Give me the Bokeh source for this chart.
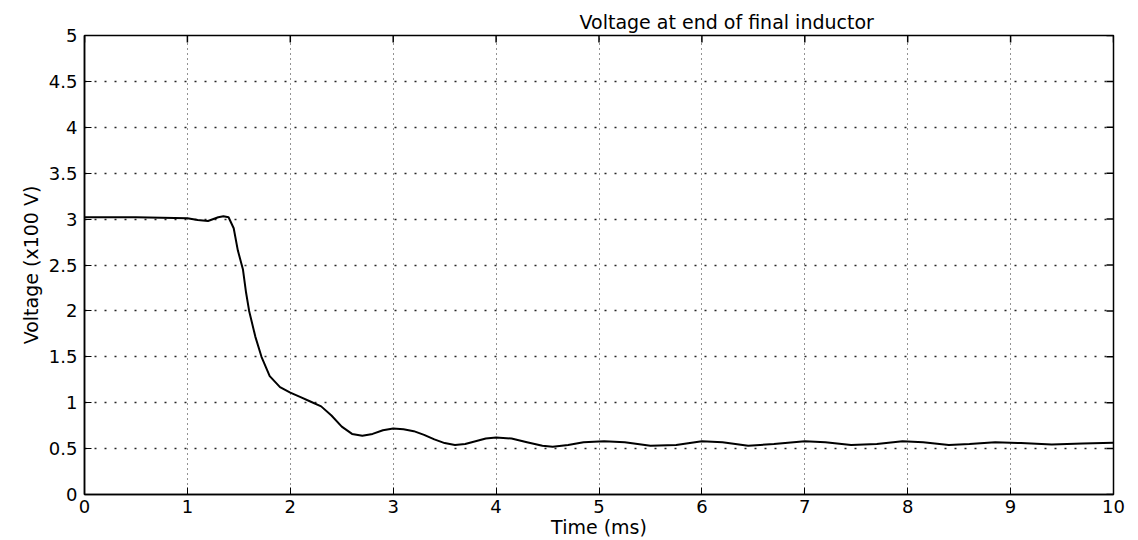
import math
from bokeh.plotting import figure
from bokeh.models import FixedTicker, Range1d, Title
from bokeh.embed import file_html
from bokeh.resources import INLINE

# ---- data ----
time_ms = [0, 0.5, 1.0, 1.1, 1.2, 1.3, 1.35, 1.4, 1.45, 1.49, 1.54, 1.57, 1.60, 1.66, 1.72,
           1.8, 1.9, 2.0, 2.1, 2.2, 2.3, 2.4, 2.5, 2.6, 2.7, 2.8, 2.9, 3.0, 3.1, 3.2, 3.3,
           3.4, 3.5, 3.6, 3.7, 3.8, 3.9, 4.0, 4.15, 4.3, 4.45, 4.55, 4.7, 4.85, 5.05, 5.25,
           5.5, 5.75, 6.0, 6.2, 6.45, 6.7, 7.0, 7.2, 7.45, 7.7, 7.95, 8.15, 8.4, 8.6, 8.85,
           9.1, 9.4, 9.7, 10.0]
voltage = [3.02, 3.02, 3.01, 2.99, 2.98, 3.02, 3.03, 3.02, 2.90, 2.66, 2.45, 2.20, 2.00, 1.72, 1.50,
           1.29, 1.17, 1.11, 1.06, 1.01, 0.96, 0.86, 0.74, 0.66, 0.64, 0.66, 0.70, 0.72, 0.71, 0.69, 0.65,
           0.60, 0.56, 0.54, 0.55, 0.58, 0.61, 0.62, 0.61, 0.57, 0.53, 0.52, 0.54, 0.57, 0.58, 0.57,
           0.53, 0.54, 0.58, 0.57, 0.53, 0.55, 0.58, 0.57, 0.54, 0.55, 0.58, 0.57, 0.54, 0.55, 0.57,
           0.56, 0.545, 0.555, 0.565]

x_ticks = [0, 1, 2, 3, 4, 5, 6, 7, 8, 9, 10]
y_ticks = [0, 0.5, 1, 1.5, 2, 2.5, 3, 3.5, 4, 4.5, 5]
y_tick_labels = ["0", "0.5", "1", "1.5", "2", "2.5", "3", "3.5", "4", "4.5", "5"]

title_text = "Voltage at end of final inductor"
x_label = "Time (ms)"
y_label = "Voltage (x100 V)"

FONT = "DejaVu Sans"
X_MIN, X_MAX, Y_MIN, Y_MAX = 0, 10, 0, 5

p = figure(width=1138, height=540, output_backend="svg", toolbar_location=None,
           x_range=Range1d(X_MIN, X_MAX), y_range=Range1d(Y_MIN, Y_MAX),
           min_border_left=84, min_border_right=25, min_border_top=35, min_border_bottom=45)
p.title = None
t = Title(text=title_text, align="left", offset=495, text_font=FONT,
          text_font_size="19px", text_font_style="normal", text_color="black",
          standoff=6)
p.add_layout(t, "above")

p.background_fill_color = "white"
p.border_fill_color = "white"
p.outline_line_color = "black"
p.outline_line_width = 1.5

p.line(time_ms, voltage, line_color="black", line_width=2)

for ax in p.xaxis:
    ax.ticker = FixedTicker(ticks=x_ticks)
    ax.axis_label = x_label
    ax.axis_label_text_font = FONT
    ax.axis_label_text_font_size = "19px"
    ax.axis_label_text_font_style = "normal"
    ax.axis_label_text_color = "black"
    ax.axis_label_standoff = 0
    ax.major_label_text_font = FONT
    ax.major_label_text_font_size = "18px"
    ax.major_label_standoff = 5
    ax.major_tick_in = 7
    ax.major_tick_out = 0
    ax.minor_tick_in = 0
    ax.minor_tick_out = 0
    ax.axis_line_color = "black"
    ax.axis_line_width = 1.5
    ax.major_label_text_color = "black"

for ax in p.yaxis:
    ax.ticker = FixedTicker(ticks=y_ticks)
    ax.major_label_overrides = {v: s for v, s in zip(y_ticks, y_tick_labels)}
    ax.axis_label = y_label
    ax.axis_label_text_font = FONT
    ax.axis_label_text_font_size = "19px"
    ax.axis_label_text_font_style = "normal"
    ax.axis_label_text_color = "black"
    ax.axis_label_standoff = 4
    ax.major_label_text_font = FONT
    ax.major_label_text_font_size = "18px"
    ax.major_label_standoff = 7
    ax.major_tick_in = 7
    ax.major_tick_out = 0
    ax.minor_tick_in = 0
    ax.minor_tick_out = 0
    ax.axis_line_color = "black"
    ax.axis_line_width = 1.5
    ax.major_label_text_color = "black"

# inward tick marks on the top and right edges of the box (clipped to the frame)
p.scatter(x=x_ticks, y=[Y_MAX] * len(x_ticks), marker="dash", angle=math.pi / 2,
          size=14, line_color="black", line_width=1.5)
p.scatter(x=[X_MAX] * len(y_ticks), y=y_ticks, marker="dash",
          size=14, line_color="black", line_width=1.5)

p.xgrid.ticker = FixedTicker(ticks=x_ticks)
p.ygrid.ticker = FixedTicker(ticks=y_ticks)
p.xgrid.grid_line_color = "black"
p.xgrid.grid_line_dash = "1 4"
p.xgrid.grid_line_width = 1
p.xgrid.grid_line_alpha = 0.85
p.ygrid.grid_line_color = "black"
p.ygrid.grid_line_dash = "2 8"
p.ygrid.grid_line_width = 1.5
p.ygrid.grid_line_alpha = 0.85

open("out.html", "w").write(file_html(p, INLINE))
